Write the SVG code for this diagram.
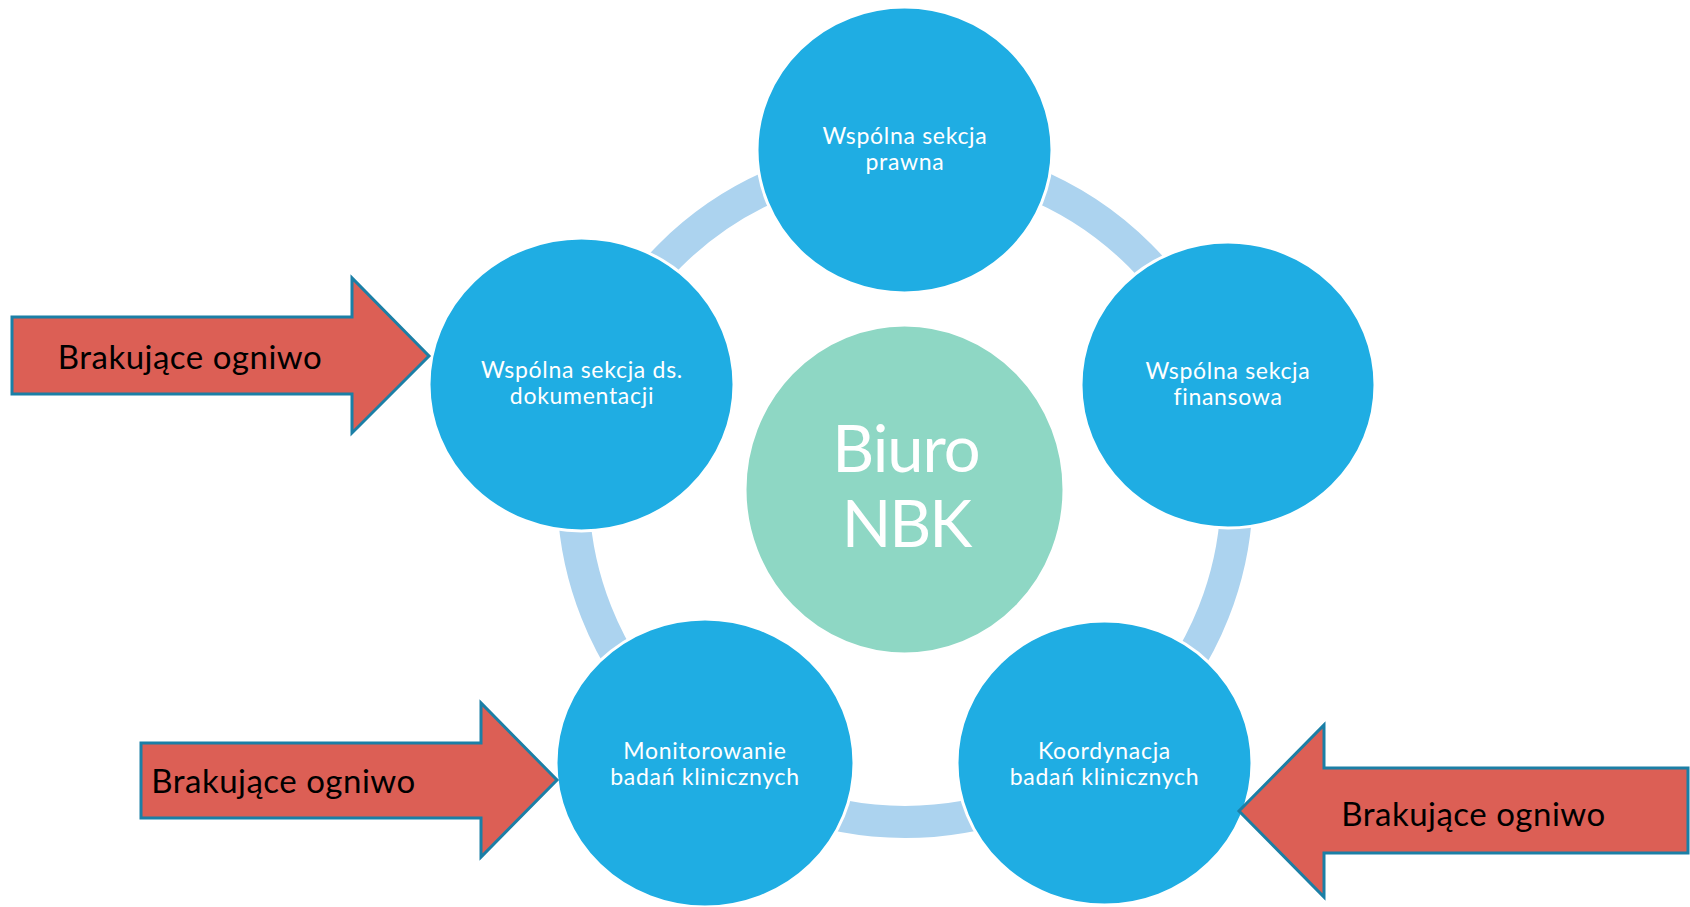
<svg xmlns="http://www.w3.org/2000/svg" width="1690" height="907" viewBox="0 0 1690 907">
<style>
.node{fill:#1fade3;stroke:#ffffff;stroke-width:3}
.center{fill:#8ed7c4;stroke:#ffffff;stroke-width:3}
.ntext{fill:#ffffff;font-family:Lato,"Open Sans",sans-serif;font-size:23px;letter-spacing:0.7px;text-anchor:middle}
.ctext{fill:#ffffff;font-family:Lato,"Open Sans",sans-serif;font-size:65px;letter-spacing:-1px;text-anchor:middle}
.arrow{fill:#dc5f55;stroke:#1b7fa6;stroke-width:3;stroke-linejoin:miter}
.atext{fill:#000000;font-family:Lato,"Open Sans",sans-serif;font-size:33px;letter-spacing:0.5px;text-anchor:middle}
</style>
<rect width="1690" height="907" fill="#ffffff"/>
<g id="connectors">
<circle cx="905" cy="490" r="332" fill="none" stroke="#acd3ef" stroke-width="32"/>
</g>
<g id="center">
<ellipse class="center" cx="904.5" cy="489.5" rx="159.5" ry="164.5"/>
<text class="ctext" x="906" y="472">Biuro</text>
<text class="ctext" x="906" y="547" style="letter-spacing:-2px">NBK</text>
</g>
<g id="node-prawna">
<ellipse class="node" cx="904.5" cy="150" rx="147.5" ry="143"/>
<text class="ntext" x="905" y="144">Wspólna sekcja</text>
<text class="ntext" x="905" y="170">prawna</text>
</g>
<g id="node-finansowa">
<ellipse class="node" cx="1228" cy="385" rx="147" ry="143"/>
<text class="ntext" x="1228" y="379">Wspólna sekcja</text>
<text class="ntext" x="1228" y="405">finansowa</text>
</g>
<g id="node-koordynacja">
<ellipse class="node" cx="1104.5" cy="763" rx="147.5" ry="142"/>
<text class="ntext" x="1104.5" y="759">Koordynacja</text>
<text class="ntext" x="1104.5" y="785">badań klinicznych</text>
</g>
<g id="node-monitorowanie">
<ellipse class="node" cx="705" cy="763" rx="149" ry="144"/>
<text class="ntext" x="705" y="759">Monitorowanie</text>
<text class="ntext" x="705" y="785">badań klinicznych</text>
</g>
<g id="node-dokumentacja">
<ellipse class="node" cx="581.5" cy="384.5" rx="152.5" ry="146.5"/>
<text class="ntext" x="582" y="378">Wspólna sekcja ds.</text>
<text class="ntext" x="582" y="404">dokumentacji</text>
</g>
<g id="arrow-1">
<polygon class="arrow" points="12,317 352,317 352,278 429,356 352,433 352,394 12,394"/>
<text class="atext" x="190" y="369">Brakujące ogniwo</text>
</g>
<g id="arrow-2">
<polygon class="arrow" points="141,743 481,743 481,703 557,780 481,857 481,818 141,818"/>
<text class="atext" x="283.5" y="793">Brakujące ogniwo</text>
</g>
<g id="arrow-3">
<polygon class="arrow" points="1688,768 1324,768 1324,725 1239,811 1324,897 1324,853 1688,853"/>
<text class="atext" x="1473.5" y="826">Brakujące ogniwo</text>
</g>
</svg>
